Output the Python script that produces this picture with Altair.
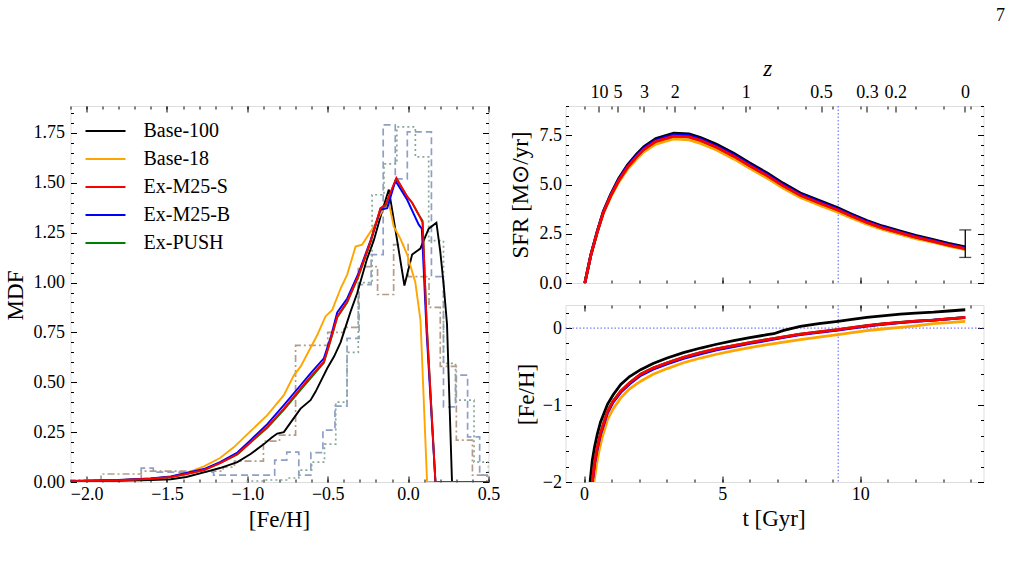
import altair as alt
import pandas as pd
import numpy as np

FONT = "Liberation Serif"

# ---------------- series definitions ----------------
series_names = ["Base-100", "Base-18", "Ex-M25-S", "Ex-M25-B", "Ex-PUSH"]
series_colors = ["#000000", "#ffa500", "#ff0000", "#0000ff", "#008000"]
draw_order = ["Base-100", "Base-18", "Ex-PUSH", "Ex-M25-B", "Ex-M25-S"]

# ---------------- MDF curves (left panel) ----------------
mdf_base100_x = [-2.1, -1.8, -1.6, -1.476, -1.38, -1.27, -1.17, -1.062, -0.98, -0.897, -0.85, -0.814, -0.773,
                 -0.72, -0.669, -0.607, -0.576, -0.503, -0.46, -0.42, -0.358, -0.317, -0.255, -0.214, -0.162,
                 -0.12, -0.07, -0.023, 0.025, 0.076, 0.128, 0.176, 0.2, 0.221, 0.242, 0.273, 0.5]
mdf_base100_y = [0.003, 0.006, 0.01, 0.014, 0.025, 0.048, 0.07, 0.10, 0.14, 0.19, 0.222, 0.243, 0.25,
                 0.31, 0.368, 0.41, 0.452, 0.57, 0.63, 0.70, 0.854, 0.946, 1.12, 1.21, 1.357,
                 1.466, 1.22, 0.985, 1.14, 1.17, 1.27, 1.30, 1.156, 0.99, 0.79, 0.0, 0.0]

mdf_base18_x = [-2.1, -1.8, -1.6, -1.476, -1.38, -1.27, -1.17, -1.083, -0.98, -0.876, -0.773, -0.71, -0.669,
                -0.565, -0.514, -0.472, -0.42, -0.379, -0.327, -0.286, -0.214, -0.152, -0.12, -0.089, -0.048,
                -0.006, 0.045, 0.077, 0.118, 0.5]
mdf_base18_y = [0.005, 0.01, 0.018, 0.025, 0.045, 0.078, 0.12, 0.175, 0.255, 0.335, 0.435, 0.536, 0.578,
                0.737, 0.83, 0.863, 0.97, 1.04, 1.18, 1.19, 1.28, 1.373, 1.40, 1.28, 1.22,
                1.14, 1.0, 0.81, 0.0, 0.0]

mdf_m25s_x = [-2.1, -1.8, -1.6, -1.476, -1.38, -1.27, -1.17, -1.062, -0.98, -0.876, -0.773, -0.669, -0.607,
              -0.524, -0.48, -0.441, -0.379, -0.307, -0.234, -0.172, -0.141, -0.073, -0.006, 0.025, 0.066,
              0.09, 0.115, 0.17, 0.5]
mdf_m25s_y = [0.004, 0.009, 0.016, 0.025, 0.04, 0.06, 0.095, 0.14, 0.2, 0.276, 0.368, 0.469, 0.528,
              0.603, 0.72, 0.83, 0.905, 1.04, 1.206, 1.373, 1.39, 1.524, 1.432, 1.40, 1.34,
              1.30, 0.80, 0.0, 0.0]

mdf_m25b_x = [-2.1, -1.8, -1.6, -1.476, -1.38, -1.27, -1.17, -1.062, -0.98, -0.876, -0.773, -0.669, -0.607,
              -0.524, -0.48, -0.441, -0.379, -0.307, -0.234, -0.172, -0.13, -0.079, -0.006, 0.066, 0.085,
              0.115, 0.17, 0.5]
mdf_m25b_y = [0.005, 0.01, 0.018, 0.028, 0.045, 0.065, 0.10, 0.148, 0.21, 0.29, 0.385, 0.485, 0.545,
              0.62, 0.73, 0.85, 0.92, 1.05, 1.21, 1.365, 1.373, 1.51, 1.415, 1.29, 1.27,
              0.75, 0.0, 0.0]

mdf_push_x = [-2.1, -1.8, -1.6, -1.476, -1.38, -1.27, -1.17, -1.062, -0.98, -0.876, -0.773, -0.669, -0.607,
              -0.524, -0.48, -0.441, -0.379, -0.307, -0.234, -0.172, -0.141, -0.073, -0.006, 0.025, 0.066,
              0.09, 0.115, 0.17, 0.5]
mdf_push_y = [0.004, 0.009, 0.016, 0.025, 0.04, 0.06, 0.094, 0.138, 0.198, 0.272, 0.362, 0.462, 0.52,
              0.598, 0.715, 0.825, 0.9, 1.035, 1.2, 1.37, 1.385, 1.52, 1.43, 1.40, 1.34,
              1.31, 0.80, 0.0, 0.0]

# ---------------- observed MDF histograms (bin edges / heights) ----------------
hist_brown_edges = [-2.1, -1.91, -1.66, -1.15, -1.08, -0.90, -0.80, -0.70, -0.50, -0.40, -0.31, -0.19, -0.09,
                    0.0, 0.13, 0.20, 0.30, 0.40, 0.49]
hist_brown_heights = [0.01, 0.04, 0.055, 0.075, 0.105, 0.205, 0.235, 0.685, 0.75, 0.775, 1.08, 0.94, 1.19,
                      1.03, 0.875, 0.58, 0.21, 0.034]

hist_blue_edges = [-1.66, -1.585, -1.21, -0.83, -0.755, -0.68, -0.605, -0.53, -0.455, -0.38, -0.305, -0.23,
                   -0.155, -0.08, -0.005, 0.145, 0.22, 0.295, 0.37, 0.445, 0.52]
hist_blue_heights = [0.07, 0.05, 0.034, 0.11, 0.15, 0.034, 0.147, 0.26, 0.38, 0.72, 0.99, 1.14, 1.79, 1.52,
                     1.755, 1.03, 0.377, 0.536, 0.226, 0.034]

hist_green_edges = [-1.0, -0.9, -0.75, -0.68, -0.60, -0.52, -0.45, -0.38, -0.31, -0.224, -0.15, -0.07, 0.045,
                    0.128, 0.22, 0.295, 0.41, 0.5]
hist_green_heights = [0.005, 0.01, 0.02, 0.06, 0.10, 0.19, 0.40, 0.65, 1.0, 1.44, 1.595, 1.78, 1.63, 1.21,
                      0.595, 0.41, 0.10]

# ---------------- SFR(t) (right top) ----------------
sfr_t = [0.03, 0.25, 0.48, 0.7, 0.96, 1.25, 1.57, 1.9, 2.17, 2.6, 3.25, 3.8, 4.22, 4.8, 5.42, 6.0, 6.63,
         7.2, 7.83, 8.5, 9.19, 9.7, 10.24, 10.8, 11.45, 12.0, 12.65, 13.2, 13.8]
sfr_base100 = [0.0, 1.45, 2.64, 3.65, 4.5, 5.3, 6.0, 6.55, 6.94, 7.35, 7.62, 7.58, 7.4, 7.05, 6.6, 6.1, 5.59,
               5.08, 4.58, 4.2, 3.82, 3.5, 3.18, 2.9, 2.64, 2.42, 2.21, 2.02, 1.84]
sfr_m25b = [0.0, 1.44, 2.61, 3.61, 4.45, 5.25, 5.94, 6.48, 6.87, 7.27, 7.54, 7.5, 7.32, 6.97, 6.52, 6.03, 5.52,
            5.01, 4.52, 4.14, 3.76, 3.44, 3.13, 2.85, 2.59, 2.37, 2.16, 1.97, 1.79]
sfr_m25s = [0.0, 1.43, 2.6, 3.59, 4.42, 5.2, 5.88, 6.42, 6.8, 7.2, 7.47, 7.43, 7.25, 6.9, 6.45, 5.96, 5.46,
            4.95, 4.46, 4.08, 3.71, 3.39, 3.08, 2.8, 2.55, 2.33, 2.12, 1.93, 1.75]
sfr_push = [0.0, 1.43, 2.6, 3.59, 4.42, 5.2, 5.88, 6.42, 6.8, 7.2, 7.47, 7.43, 7.25, 6.9, 6.45, 5.96, 5.46,
            4.95, 4.46, 4.08, 3.71, 3.39, 3.08, 2.8, 2.55, 2.33, 2.12, 1.93, 1.75]
sfr_base18 = [0.0, 1.41, 2.56, 3.53, 4.35, 5.1, 5.77, 6.3, 6.67, 7.06, 7.33, 7.28, 7.1, 6.76, 6.31, 5.83, 5.33,
              4.83, 4.35, 3.97, 3.6, 3.29, 2.99, 2.72, 2.47, 2.26, 2.06, 1.88, 1.7]

# observational SFR estimate today (error bar)
sfr_obs_t = [13.8]
sfr_obs_lo = [1.3]
sfr_obs_hi = [2.7]

# ---------------- [Fe/H](t) (right bottom) ----------------
feh_base100_t = [0.22, 0.3, 0.38, 0.48, 0.6, 0.85, 1.05, 1.33, 1.65, 2.05, 2.5, 3.01, 3.6, 4.22, 4.8, 5.42,
                 6.0, 6.63, 6.87, 7.23, 7.83, 8.5, 9.19, 9.7, 10.24, 10.8, 11.45, 12.0, 12.65, 13.2, 13.8]
feh_base100 = [-2.0, -1.72, -1.55, -1.38, -1.22, -0.99, -0.87, -0.733, -0.63, -0.54, -0.46, -0.389, -0.32,
               -0.259, -0.21, -0.164, -0.125, -0.086, -0.073, -0.03, 0.022, 0.058, 0.087, 0.112, 0.138, 0.16,
               0.181, 0.195, 0.207, 0.222, 0.238]
feh_m25_t = [0.30, 0.38, 0.48, 0.6, 0.85, 1.05, 1.33, 1.65, 2.05, 2.5, 3.01, 3.6, 4.22, 4.8, 5.42, 6.0, 6.63,
             7.23, 7.83, 8.5, 9.19, 9.7, 10.24, 10.8, 11.45, 12.0, 12.65, 13.2, 13.8]
feh_m25s = [-2.0, -1.75, -1.55, -1.36, -1.08, -0.95, -0.82, -0.71, -0.60, -0.52, -0.45, -0.38, -0.32, -0.27,
            -0.228, -0.19, -0.15, -0.113, -0.078, -0.05, -0.021, 0.005, 0.031, 0.053, 0.074, 0.09, 0.104,
            0.121, 0.138]
feh_m25b = [-2.0, -1.77, -1.57, -1.38, -1.10, -0.965, -0.835, -0.725, -0.615, -0.535, -0.465, -0.395, -0.335,
            -0.284, -0.24, -0.2, -0.16, -0.122, -0.086, -0.056, -0.026, 0.0, 0.027, 0.05, 0.072, 0.088, 0.103,
            0.12, 0.137]
feh_push = [-2.0, -1.75, -1.55, -1.36, -1.08, -0.95, -0.82, -0.71, -0.60, -0.52, -0.45, -0.38, -0.32, -0.27,
            -0.228, -0.19, -0.15, -0.113, -0.078, -0.05, -0.021, 0.005, 0.031, 0.053, 0.074, 0.09, 0.104,
            0.121, 0.138]
feh_base18_t = [0.36, 0.45, 0.54, 0.65, 0.85, 1.05, 1.33, 1.65, 2.05, 2.5, 3.01, 3.6, 4.22, 4.8, 5.42, 6.0,
                6.63, 7.23, 7.83, 8.5, 9.19, 9.7, 10.24, 10.8, 11.45, 12.0, 12.65, 13.2, 13.8]
feh_base18 = [-2.0, -1.78, -1.6, -1.43, -1.19, -1.05, -0.907, -0.79, -0.69, -0.6, -0.526, -0.45, -0.389, -0.34,
              -0.293, -0.253, -0.215, -0.182, -0.15, -0.118, -0.086, -0.06, -0.034, -0.012, 0.009, 0.03, 0.057,
              0.072, 0.087]

# reference lines
t_ref = [9.2]          # vertical dotted line (both right panels)
feh_ref = [0.0]        # horizontal dotted line (bottom right)

# redshift ticks on top axis
z_tick_t = [0.54, 1.21, 2.17, 3.28, 5.85, 8.58, 10.24, 11.27, 13.79]
z_tick_labels = ["10", "5", "3", "2", "1", "0.5", "0.3", "0.2", "0"]

page_number = ["7"]

# ---------------- data frames ----------------
def long_df(pairs):
    rows = []
    for name in draw_order:
        xs, ys = pairs[name]
        for i, (a, b) in enumerate(zip(xs, ys)):
            rows.append({"series": name, "x": a, "y": b, "i": i, "k": draw_order.index(name)})
    return pd.DataFrame(rows)

mdf_df = long_df({
    "Base-100": (mdf_base100_x, mdf_base100_y),
    "Base-18": (mdf_base18_x, mdf_base18_y),
    "Ex-M25-S": (mdf_m25s_x, mdf_m25s_y),
    "Ex-M25-B": (mdf_m25b_x, mdf_m25b_y),
    "Ex-PUSH": (mdf_push_x, mdf_push_y),
})
sfr_df = long_df({
    "Base-100": (sfr_t, sfr_base100),
    "Base-18": (sfr_t, sfr_base18),
    "Ex-M25-S": (sfr_t, sfr_m25s),
    "Ex-M25-B": (sfr_t, sfr_m25b),
    "Ex-PUSH": (sfr_t, sfr_push),
})
feh_df = long_df({
    "Base-100": (feh_base100_t, feh_base100),
    "Base-18": (feh_base18_t, feh_base18),
    "Ex-M25-S": (feh_m25_t, feh_m25s),
    "Ex-M25-B": (feh_m25_t, feh_m25b),
    "Ex-PUSH": (feh_m25_t, feh_push),
})

def hist_df(edges, heights):
    xs = [edges[0]] + list(edges)
    ys = [0.0] + list(heights) + [0.0]
    return pd.DataFrame({"x": xs, "y": ys, "i": list(range(len(xs)))})

# ---------------- helpers ----------------
MAJ, MINR = 6, 3
LABEL_FS = 18
TITLE_FS = 23

def sc(dom):
    return alt.Scale(domain=dom, nice=False, zero=False)

def make_axis(orient, values, size, fmt=None, expr=None, title=None, tx=None, ty=None,
              pad=4, italic=False):
    kw = dict(orient=orient, values=values, tickSize=size, offset=-size, domain=False, grid=False,
              ticks=True, tickColor="black", tickWidth=1, labelFlush=False, labelOverlap=False,
              labelBound=False)
    if fmt is not None or expr is not None:
        kw.update(labels=True, labelFont=FONT, labelFontSize=LABEL_FS, labelColor="black", labelPadding=pad)
        if fmt is not None:
            kw["format"] = fmt
        if expr is not None:
            kw["labelExpr"] = expr
    else:
        kw["labels"] = False
    if title is not None:
        kw.update(title=title, titleFont=FONT, titleFontSize=TITLE_FS, titleFontWeight="normal",
                  titleColor="black", titleX=tx, titleY=ty, titleAlign="center", titleBaseline="middle")
        if orient in ("left", "right"):
            kw["titleAngle"] = 270
        if italic:
            kw["titleFontStyle"] = "italic"
    else:
        kw["title"] = None
    return alt.Axis(**kw)

def frame_layers(xdom, ydom, xmaj, xmin_, ymaj, ymin_, bottom, left, top=None):
    dom = pd.DataFrame({"x": xdom, "y": ydom})
    base = alt.Chart(dom).mark_point(opacity=0)
    top_major = top if top is not None else make_axis("top", xmaj, MAJ)
    return [
        base.encode(x=alt.X("x:Q", scale=sc(xdom), axis=bottom),
                    y=alt.Y("y:Q", scale=sc(ydom), axis=left)),
        base.encode(x=alt.X("x:Q", scale=sc(xdom), axis=make_axis("bottom", xmin_, MINR)),
                    y=alt.Y("y:Q", scale=sc(ydom), axis=make_axis("left", ymin_, MINR))),
        base.encode(x=alt.X("x:Q", scale=sc(xdom), axis=top_major),
                    y=alt.Y("y:Q", scale=sc(ydom), axis=make_axis("right", ymaj, MAJ))),
        base.encode(x=alt.X("x:Q", scale=sc(xdom), axis=make_axis("top", xmin_, MINR)),
                    y=alt.Y("y:Q", scale=sc(ydom), axis=make_axis("right", ymin_, MINR))),
    ]

def vals(a, b, step):
    return [round(v, 3) for v in np.arange(a, b + step / 2, step)]

color_scale = alt.Scale(domain=series_names, range=series_colors)

# ---------------- left panel ----------------
X_L = [-2.1, 0.5]
Y_L = [0.0, 1.885]
W_L, H_L = 418, 376

def hist_layer(edges, heights, color, dash):
    return alt.Chart(hist_df(edges, heights)).mark_line(
        interpolate="step-after", color=color, strokeDash=dash, strokeWidth=1.7, clip=True
    ).encode(x=alt.X("x:Q", scale=sc(X_L), axis=None),
             y=alt.Y("y:Q", scale=sc(Y_L), axis=None),
             order=alt.Order("i:Q"))

h_brown = hist_layer(hist_brown_edges, hist_brown_heights, "#b49c88", [7, 3, 2, 3])
h_blue = hist_layer(hist_blue_edges, hist_blue_heights, "#8fa0c6", [7, 4])
h_green = hist_layer(hist_green_edges, hist_green_heights, "#88a896", [2, 3])

# legend: a long horizontal stroke drawn from a compact symbol box (keeps rows tight)
mdf_lines = alt.Chart(mdf_df).mark_line(strokeWidth=1.9, clip=True).encode(
    x=alt.X("x:Q", scale=sc(X_L), axis=None),
    y=alt.Y("y:Q", scale=sc(Y_L), axis=None),
    color=alt.Color("series:N", scale=color_scale,
                    legend=alt.Legend(title=None, orient="none", legendX=24, legendY=14,
                                      symbolType="M-2,0H2", symbolSize=400, symbolStrokeWidth=2,
                                      symbolFillColor="transparent",
                                      labelFont=FONT, labelFontSize=20, labelColor="black",
                                      labelOffset=27, rowPadding=7, padding=0)),
    detail="k:N",
    order=alt.Order("i:Q"),
)

left_frame = frame_layers(
    X_L, Y_L, vals(-2.0, 0.5, 0.5), vals(-2.1, 0.5, 0.1), vals(0.0, 1.75, 0.25), vals(0.0, 1.85, 0.05),
    bottom=make_axis("bottom", vals(-2.0, 0.5, 0.5), MAJ, fmt=".1f", title="[Fe/H]", tx=208.5, ty=43, pad=3),
    left=make_axis("left", vals(0.0, 1.75, 0.25), MAJ, fmt=".2f", title="MDF", tx=-61, ty=189, pad=6),
)
left = alt.layer(h_brown, h_blue, h_green, mdf_lines, *left_frame).resolve_axis(
    x="independent", y="independent").properties(width=W_L, height=H_L)

# ---------------- right top panel (SFR) ----------------
X_R = [-0.67, 14.46]
Y_S = [0.0, 9.0]
W_R, H_R = 418, 177

sfr_lines = alt.Chart(sfr_df).mark_line(strokeWidth=2.8, clip=True).encode(
    x=alt.X("x:Q", scale=sc(X_R), axis=None),
    y=alt.Y("y:Q", scale=sc(Y_S), axis=None),
    color=alt.Color("series:N", scale=color_scale, legend=None),
    detail="k:N",
    order=alt.Order("i:Q"),
)
vline_df = pd.DataFrame({"t": t_ref})
vline_top = alt.Chart(vline_df).mark_rule(color="#5b5bff", strokeDash=[1.5, 2], strokeWidth=1).encode(
    x=alt.X("t:Q", scale=sc(X_R), axis=None))
err_df = pd.DataFrame({"t": sfr_obs_t, "lo": sfr_obs_lo, "hi": sfr_obs_hi})
err_rule = alt.Chart(err_df).mark_rule(color="black", strokeWidth=1.3).encode(
    x=alt.X("t:Q", scale=sc(X_R), axis=None),
    y=alt.Y("lo:Q", scale=sc(Y_S), axis=None), y2="hi:Q")
err_lo = alt.Chart(err_df).mark_tick(color="black", orient="horizontal", size=12, thickness=1.3).encode(
    x=alt.X("t:Q", scale=sc(X_R), axis=None), y=alt.Y("lo:Q", scale=sc(Y_S), axis=None))
err_hi = alt.Chart(err_df).mark_tick(color="black", orient="horizontal", size=12, thickness=1.3).encode(
    x=alt.X("t:Q", scale=sc(X_R), axis=None), y=alt.Y("hi:Q", scale=sc(Y_S), axis=None))
page_df = pd.DataFrame({"txt": page_number})
page_txt = alt.Chart(page_df).mark_text(font=FONT, fontSize=18, color="black", align="center",
                                        baseline="middle").encode(
    x=alt.value(435), y=alt.value(-90), text="txt:N")

z_expr = ("[" + ",".join("'%s'" % s for s in z_tick_labels) + "][indexof(["
          + ",".join(str(v) for v in z_tick_t) + "], datum.value)]")
top_frame = frame_layers(
    X_R, Y_S, vals(0, 10, 5), vals(0, 14, 1), vals(0.0, 7.5, 2.5), vals(0.0, 9.0, 0.5),
    bottom=make_axis("bottom", vals(0, 10, 5), MAJ),
    left=make_axis("left", vals(0.0, 7.5, 2.5), MAJ, fmt=".1f", title="SFR [M\u2299/yr]", tx=-51, ty=88.5,
                   pad=4),
    top=make_axis("top", z_tick_t, MAJ, expr=z_expr, title="z", tx=201.7, ty=-44, pad=4.5, italic=True),
)
right_top = alt.layer(vline_top, sfr_lines, err_rule, err_lo, err_hi, page_txt, *top_frame).resolve_axis(
    x="independent", y="independent").properties(width=W_R, height=H_R)

# ---------------- right bottom panel ([Fe/H] vs t) ----------------
Y_F = [-2.0, 0.3]
feh_lines = alt.Chart(feh_df).mark_line(strokeWidth=2.8, clip=True).encode(
    x=alt.X("x:Q", scale=sc(X_R), axis=None),
    y=alt.Y("y:Q", scale=sc(Y_F), axis=None),
    color=alt.Color("series:N", scale=color_scale, legend=None),
    detail="k:N",
    order=alt.Order("i:Q"),
)
vline_bot = alt.Chart(vline_df).mark_rule(color="#5b5bff", strokeDash=[1.5, 2], strokeWidth=1).encode(
    x=alt.X("t:Q", scale=sc(X_R), axis=None))
hline_df = pd.DataFrame({"f": feh_ref})
hline_bot = alt.Chart(hline_df).mark_rule(color="#5b5bff", strokeDash=[1.5, 2], strokeWidth=1).encode(
    y=alt.Y("f:Q", scale=sc(Y_F), axis=None))
bot_frame = frame_layers(
    X_R, Y_F, vals(0, 10, 5), vals(0, 14, 1), vals(-2, 0, 1), vals(-2.0, 0.2, 0.2),
    bottom=make_axis("bottom", vals(0, 10, 5), MAJ, fmt="d", title="t [Gyr]", tx=208, ty=42, pad=3),
    left=make_axis("left", vals(-2, 0, 1), MAJ, fmt="d", title="[Fe/H]", tx=-45, ty=89, pad=4),
)
right_bot = alt.layer(vline_bot, hline_bot, feh_lines, *bot_frame).resolve_axis(
    x="independent", y="independent").properties(width=W_R, height=H_R)

right = alt.vconcat(right_top, right_bot, spacing=22, bounds="flush").resolve_scale(color="independent")

chart = alt.hconcat(left, right, spacing=77, bounds="flush").resolve_scale(color="independent").properties(
    padding={"left": 3.5, "top": 6, "right": 6, "bottom": 6},
    background="white",
).configure_view(stroke="black", strokeWidth=1.2).configure(font=FONT)

chart.save("out.html", embed_options={"renderer": "svg", "actions": False})
